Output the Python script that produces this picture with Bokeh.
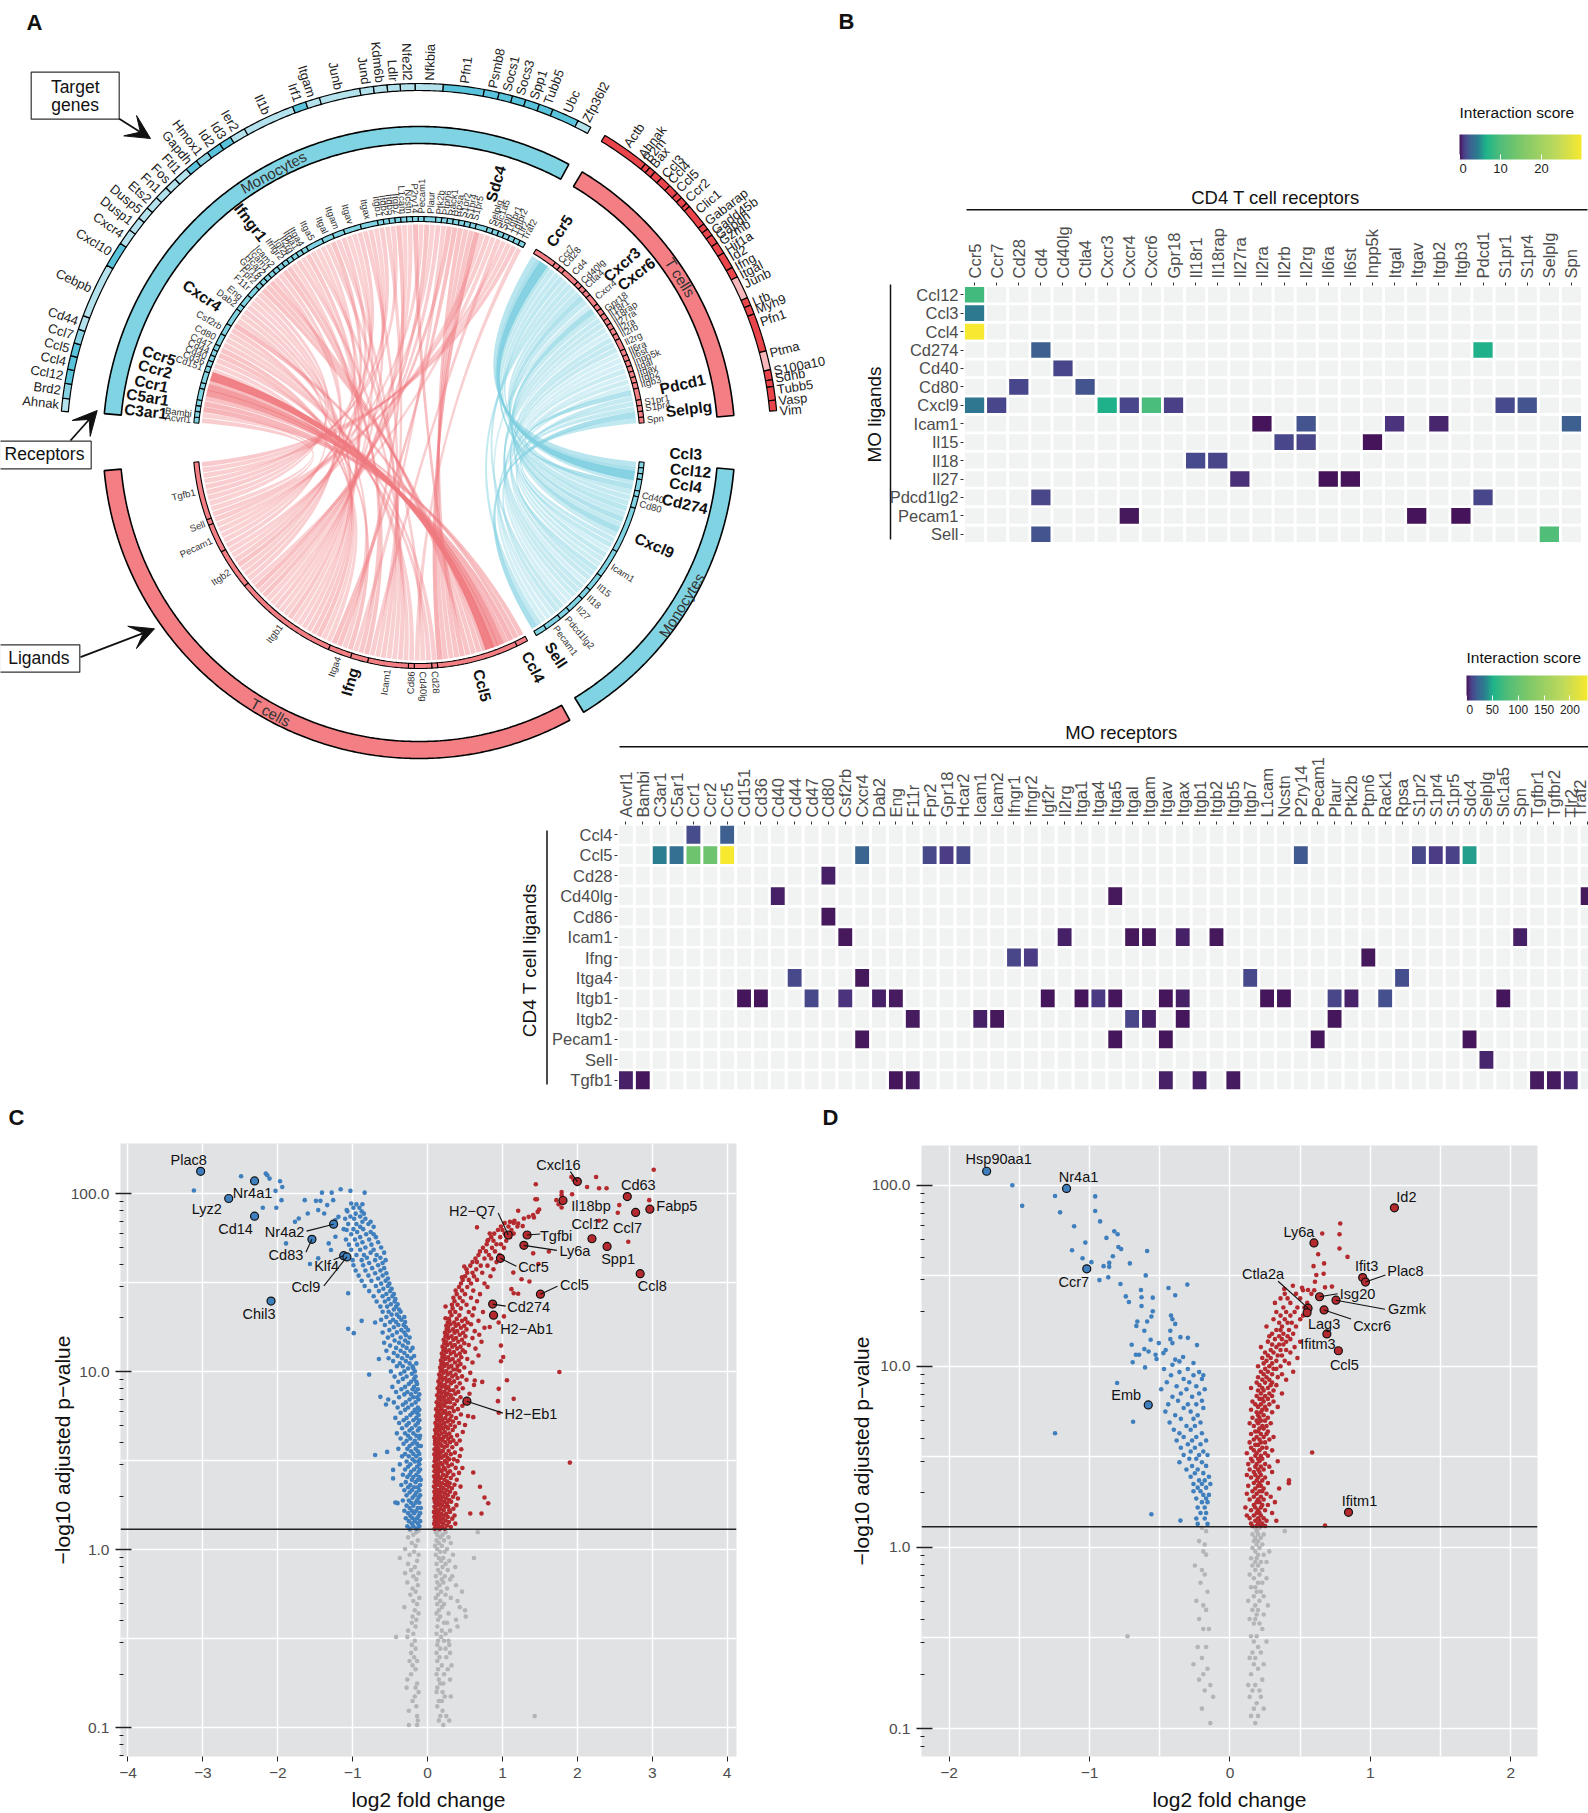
import math
import numpy as np
from bokeh.plotting import figure
from bokeh.embed import file_html
from bokeh.resources import INLINE
from bokeh.core.properties import value
from bokeh.models import (Range1d, FixedTicker, LinearColorMapper, ColorBar, Arrow, VeeHead, Span, ColumnDataSource)

FONT = "Liberation Sans"
# ---------- interaction scores
mo_ligands = ["Ccl3","Ccl12","Ccl4","Cd274","Cd40","Cd80","Cxcl9","Icam1","Il15","Il18","Il27","Pdcd1lg2","Pecam1","Sell"]
heat1_rows = ["Ccl12","Ccl3","Ccl4","Cd274","Cd40","Cd80","Cxcl9","Icam1","Il15","Il18","Il27","Pdcd1lg2","Pecam1","Sell"]
t_receptors = ["Ccr5","Ccr7","Cd28","Cd4","Cd40lg","Ctla4","Cxcr3","Cxcr4","Cxcr6","Gpr18","Il18r1","Il18rap","Il27ra","Il2ra","Il2rb","Il2rg","Il6ra","Il6st","Inpp5k","Itgal","Itgav","Itgb2","Itgb3","Pdcd1","S1pr1","S1pr4","Selplg","Spn"]
heat1_cells = [("Ccl12","Ccr5",9),("Ccl3","Ccr5",4.2),("Ccl4","Ccr5",29.7),("Cd274","Cd4",2.5),("Cd274","Pdcd1",6.5),
 ("Cd40","Cd40lg",1.5),("Cd80","Cd28",1.5),("Cd80","Ctla4",2),("Cxcl9","Ccr5",4),("Cxcl9","Ccr7",1.5),("Cxcl9","Cxcr3",6.5),
 ("Cxcl9","Cxcr4",1.5),("Cxcl9","Cxcr6",9.5),("Cxcl9","Gpr18",1.2),("Cxcl9","S1pr1",1.6),("Cxcl9","S1pr4",2),
 ("Icam1","Il2ra",.1),("Icam1","Il2rg",2),("Icam1","Itgal",.8),("Icam1","Itgb2",.5),("Icam1","Spn",2.5),
 ("Il15","Il2rb",1.5),("Il15","Il2rg",1.4),("Il15","Inpp5k",.1),("Il18","Il18r1",1.6),("Il18","Il18rap",1.4),
 ("Il27","Il27ra",.7),("Il27","Il6ra",.05),("Il27","Il6st",.1),("Pdcd1lg2","Cd4",1.4),("Pdcd1lg2","Pdcd1",1.5),
 ("Pecam1","Cxcr4",.2),("Pecam1","Itgav",.1),("Pecam1","Itgb3",.05),("Sell","Cd4",2),("Sell","Selplg",10)]
t_ligands = ["Ccl4","Ccl5","Cd28","Cd40lg","Cd86","Icam1","Ifng","Itga4","Itgb1","Itgb2","Pecam1","Sell","Tgfb1"]
mo_receptors = ["Acvrl1","Bambi","C3ar1","C5ar1","Ccr1","Ccr2","Ccr5","Cd151","Cd36","Cd40","Cd44","Cd47","Cd80","Csf2rb","Cxcr4","Dab2","Eng","F11r","Fpr2","Gpr18","Hcar2","Icam1","Icam2","Ifngr1","Ifngr2","Igf2r","Il2rg","Itga1","Itga4","Itga5","Itgal","Itgam","Itgav","Itgax","Itgb1","Itgb2","Itgb5","Itgb7","L1cam","Ncstn","P2ry14","Pecam1","Plaur","Ptk2b","Ptpn6","Rack1","Rpsa","S1pr2","S1pr4","S1pr5","Sdc4","Selplg","Slc1a5","Spn","Tgfbr1","Tgfbr2","Tlr2","Traf2"]
heat2_cells = [("Ccl4","Ccr1",13),("Ccl4","Ccr5",20),
 ("Ccl5","C3ar1",35),("Ccl5","C5ar1",28),("Ccl5","Ccr1",105),("Ccl5","Ccr2",105),("Ccl5","Ccr5",234),("Ccl5","Cxcr4",22),("Ccl5","Fpr2",12),("Ccl5","Gpr18",8),("Ccl5","Hcar2",12),("Ccl5","P2ry14",18),("Ccl5","S1pr2",12),("Ccl5","S1pr4",8),("Ccl5","S1pr5",10),("Ccl5","Sdc4",45),
 ("Cd28","Cd80",3),("Cd40lg","Cd40",3),("Cd40lg","Itga5",1.5),("Cd40lg","Traf2",1.5),("Cd86","Cd80",1.5),
 ("Icam1","Csf2rb",1.5),("Icam1","Il2rg",3),("Icam1","Itgal",1.5),("Icam1","Itgam",1.5),("Icam1","Itgax",3),("Icam1","Itgb2",1.5),("Icam1","Spn",3),
 ("Ifng","Ifngr1",11),("Ifng","Ifngr2",8),("Ifng","Ptpn6",1.5),
 ("Itga4","Cd44",12),("Itga4","Cxcr4",1.5),("Itga4","Itgb7",12),("Itga4","Rpsa",14),
 ("Itgb1","Cd151",1),("Itgb1","Cd36",1),("Itgb1","Cd47",12),("Itgb1","Csf2rb",6),("Itgb1","Dab2",3),("Itgb1","Eng",2),("Itgb1","Igf2r",1),("Itgb1","Itga1",1),("Itgb1","Itga4",7),("Itgb1","Itga5",1),("Itgb1","Itgav",1),("Itgb1","Itgax",3),("Itgb1","L1cam",1),("Itgb1","Ncstn",1),("Itgb1","Plaur",11),("Itgb1","Ptk2b",3.5),("Itgb1","Rack1",15),("Itgb1","Slc1a5",1),
 ("Itgb2","F11r",2),("Itgb2","Icam1",3),("Itgb2","Icam2",1.5),("Itgb2","Itgal",11),("Itgb2","Itgam",3),("Itgb2","Itgax",1),("Itgb2","Plaur",1),
 ("Pecam1","Cxcr4",1.5),("Pecam1","Itga5",1),("Pecam1","Itgav",1),("Pecam1","Pecam1",1),("Pecam1","Sdc4",1),
 ("Sell","Selplg",4),
 ("Tgfb1","Acvrl1",3),("Tgfb1","Bambi",1),("Tgfb1","Eng",1),("Tgfb1","F11r",2),("Tgfb1","Itgav",3),("Tgfb1","Itgb1",3),("Tgfb1","Itgb5",2),("Tgfb1","Tgfbr1",2),("Tgfb1","Tgfbr2",2),("Tgfb1","Tlr2",5)]
heat1_max = 29.75
heat2_max = 234
# ---------- target genes of the outer ring
mo_targets = ["Ahnak","Brd2","Ccl12","Ccl4","Ccl5","Ccl7","Cd44","Cebpb","Cxcl10","Cxcr4","Dusp1","Dusp5","Ets2","Fn1","Fos","Ftl1","Gapdh","Hmox1","Id2","Id3","Ier2","Il1b","Irf1","Itgam","Junb","Jund","Kdm6b","Ldlr","Nfe2l2","Nfkbia","Pfn1","Psmb8","Socs1","Socs3","Spp1","Tubb5","Ubc","Zfp36l2"]
mo_target_edges = [-85,-82.9,-80.5,-78.2,-76,-73.9,-71.6,-69.3,-60.4,-56.3,-53.7,-51.3,-49.2,-47,-44.8,-42.8,-40.4,-38.3,-36.1,-33.7,-31.7,-29.1,-20.6,-18.4,-16.1,-9.5,-7.3,-5.1,-3,-.6,3.9,10.5,12.9,15.1,17.3,19.6,21.9,26.3,28.6]
mo_target_tone = [0,1,2,2,2,1,0,0,2,0,0,0,0,0,0,0,2,1,2,2,0,0,2,0,0,0,0,0,0,0,2,2,2,2,2,2,2,0]
t_targets = ["Actb","Ahnak","B2m","Bax","Ccl3","Ccl4","Ccl5","Ccr2","Clic1","Gabarap","Gadd45b","Gapdh","Gzmb","Hif1a","Id2","Ifng","Itgal","Junb","Ltb","Myh9","Pfn1","Ptma","S100a10","Sdhb","Tubb5","Vasp","Vim"]
t_target_angles = [35,37.8,38.9,40.2,42.6,43.9,45.7,47.8,50.2,52.5,54.3,55.3,56.3,58,59.3,61,62.5,64.1,67.2,68.5,70.6,75.7,78.6,79.8,81.6,83.4,85]
t_target_edges = [31.2,39.1,40,41.1,42.5,44.3,46,47,48.2,48.9,52.5,53.5,54.7,56.2,58.1,60.8,62.5,66.2,67.5,69,75.2,78.3,79.9,81,83.2,84.9]
t_target_tone = [2,2,2,2,2,2,2,2,2,2,2,2,2,2,2,2,0,2,2,2,0,2,2,2,2]
bold_labels = {
 "mr":{"Ccr5":(-71.5,274),"Ccr2":(-74.4,274),"Ccr1":(-77.6,274),"C5ar1":(-80.5,275),"C3ar1":(-83.5,275),"Cxcr4":(-55.9,262),"Ifngr1":(-37.4,277),"Sdc4":(16.5,270)},
 "tr":{"Ccr5":(33.6,254),"Cxcr3":(48.7,270),"Cxcr6":(52.2,275),"Pdcd1":(77.5,270),"Selplg":(82.9,272)},
 "ml":{"Ccl3":(92.4,267),"Ccl12":(95.9,273),"Ccl4":(99.1,270),"Cd274":(103,273),"Cxcl9":(113.6,257),"Sell":(147.2,253)},
 "tl":{"Ccl4":(153,252),"Ccl5":(165.4,251),"Ifng":(196.1,249)}}
# ---------- volcano highlights: gene, fold change, log10 of y, label shift, connector shift
c_down = [("Plac8",-3.03,2.125,-12,-11,None),("Nr4a1",-2.31,2.071,-2,12,None),("Lyz2",-2.655,1.972,-22,10,None),("Cd14",-2.31,1.873,-19,13,None),("Nr4a2",-1.255,1.828,-49,8,(-27,7)),("Cd83",-1.544,1.743,-26,16,(-6,13)),("Klf4",-1.12,1.651,-17,10,(-10,4)),("Ccl9",-1.077,1.644,-41,30,(-23,29)),("Chil3",-2.09,1.396,-12,13,None)]
c_up = [("Cxcl16",2.0,2.067,-19,-17,(-7,-10)),("Cd63",2.667,1.983,11,-12,None),("Il18bp",1.808,1.961,28,6,None),("Fabp5",2.968,1.912,27,-3,None),("Ccl7",2.778,1.894,-8,16,None),("H2\u2212Q7",1.077,1.767,-36,-24,(-10,-22)),("Tgfbi",1.329,1.767,29,1,(13,-1)),("Ccl12",2.195,1.746,-2,-15,None),("Ly6a",1.286,1.709,51,6,(33,5)),("Spp1",2.397,1.703,11,13,None),("Ccr5",.973,1.636,33,9,(16,8)),("Ccl8",2.839,1.55,12,12,None),("Ccl5",1.507,1.435,34,-9,(17,-8)),("Cd274",.869,1.379,36,3,(13,2)),("H2\u2212Ab1",.881,1.317,33,14,None),("H2\u2212Eb1",.525,.834,64,13,(36,12))]
d_down = [("Hsp90aa1",-1.733,2.077,12,-12,None),("Nr4a1",-1.164,1.982,12,-11,None),("Ccr7",-1.02,1.538,-13,13,None),("Emb",-.582,.787,-22,-10,None)]
d_up = [("Id2",1.171,1.875,12,-11,None),("Ly6a",.598,1.681,-15,-11,None),("Ifit3",.945,1.49,4,-12,None),("Plac8",.965,1.465,40,-11,(20,-7)),("Isg20",.638,1.384,38,-3,(18,-3)),("Gzmk",.755,1.365,71,9,(49,9)),("Ctla2a",.556,1.321,-45,-34,(-30,-27)),("Lag3",.549,1.296,17,11,None),("Cxcr6",.67,1.311,48,16,(27,9)),("Ifitm3",.69,1.179,-9,10,None),("Ccl5",.772,1.086,6,14,None),("Ifitm1",.844,.194,11,-11,None)]
# ---------- every other gene: (log10 y, [fold changes at that height])
c_down_rows = [(2.112,[-2.16]),(2.103,[-2.14]),(2.097,[-2.49]),(2.084,[-2.11]),(2.069,[-1.97]),(2.037,[-1.94]),(2.024,[-1.16]),(2.017,[-3.12]),(2.015,[-2.03,-1.03]),(2.005,[-1.28,-1.41,-.84]),(1.963,[-1.95,-1.64,-1.26]),(1.959,[-1.49,-1.43]),(1.944,[-1.02]),(1.935,[-1.34]),(1.92,[-2.2,-2.02]),(1.907,[-1.46,-1.08]),(1.888,[-1.6,-1.38]),(1.869,[-1.19]),(1.86,[-1.72]),(1.851,[-1.23]),(1.841,[-1.77]),(1.795,[-1.08]),(1.757,[-1.23]),(1.72,[-1.89,-1.32]),(1.683,[-1.29]),(1.636,[-1.46]),(1.604,[-1.57]),(1.44,[-1.06]),(1.285,[-.88]),(1.276,[-.7]),(1.24,[-1.06]),(1.216,[-.985]),(1.071,[-.65]),(.983,[-.78]),(.858,[-.63]),(.843,[-.525]),(.815,[-.555]),(.549,[-.54]),(.532,[-.7]),(.448,[-.46]),(.4,[-.46]),(.265,[-.43]),(.261,[-.4]),
 (.118,[-.24,-.15]),(.131,[-.27,-.19,-.11]),(.147,[-.21,-.13]),(.16,[-.25,-.17,-.1]),(.176,[-.29,-.2,-.14]),(.189,[-.23,-.12]),(.205,[-.26,-.18,-.1]),(.218,[-.31,-.21,-.15]),(.234,[-.24,-.13,-.09]),(.247,[-.28,-.19]),(.263,[-.22,-.16,-.11]),(.276,[-.33,-.25,-.14]),(.292,[-.2,-.12]),(.305,[-.28,-.17,-.1]),(.321,[-.24,-.15]),(.334,[-.31,-.21,-.11]),(.35,[-.26,-.18,-.13]),(.363,[-.35,-.23,-.1]),(.379,[-.29,-.16]),(.392,[-.21,-.13,-.09]),(.408,[-.27,-.19,-.11]),(.421,[-.33,-.24,-.15]),(.437,[-.22,-.12]),(.45,[-.3,-.18,-.1]),(.466,[-.26,-.14]),(.479,[-.37,-.23,-.11]),(.495,[-.28,-.17,-.12]),(.508,[-.2,-.1]),(.524,[-.34,-.25,-.15]),(.537,[-.3,-.19,-.11]),(.553,[-.22,-.13]),(.566,[-.39,-.27,-.16]),(.582,[-.24,-.12,-.09]),(.595,[-.32,-.2,-.14]),(.611,[-.28,-.17]),(.624,[-.36,-.23,-.11]),(.64,[-.26,-.15,-.1]),(.653,[-.41,-.3,-.19]),(.669,[-.24,-.13]),(.682,[-.34,-.21,-.11]),(.698,[-.28,-.16]),(.711,[-.38,-.25,-.13]),(.727,[-.32,-.19,-.11]),(.74,[-.43,-.28,-.15]),(.756,[-.23,-.12]),(.769,[-.36,-.2,-.14]),(.785,[-.3,-.17,-.11]),(.798,[-.4,-.26,-.13]),(.814,[-.33,-.21]),(.827,[-.45,-.29,-.16]),(.843,[-.24,-.12]),(.856,[-.38,-.19,-.14]),(.872,[-.31,-.22,-.11]),(.885,[-.42,-.27,-.16]),(.901,[-.35,-.2,-.13]),(.914,[-.47,-.3,-.18]),(.93,[-.25,-.14]),(.943,[-.39,-.22,-.15]),(.959,[-.33,-.18]),(.972,[-.44,-.28,-.16]),(.988,[-.36,-.21]),(1.001,[-.49,-.31,-.17]),(1.017,[-.26,-.19]),(1.03,[-.41,-.33,-.2]),(1.046,[-.37,-.24,-.15]),(1.059,[-.46,-.29]),(1.075,[-.52,-.34,-.22]),(1.088,[-.4,-.27,-.18]),(1.104,[-.45,-.31]),(1.117,[-.55,-.36,-.23]),(1.133,[-.42,-.28,-.2]),(1.146,[-.5,-.33]),(1.162,[-.58,-.38,-.26]),(1.175,[-.44,-.3]),(1.191,[-.53,-.36,-.24]),(1.204,[-.47,-.29]),(1.22,[-.6,-.41,-.31]),(1.233,[-.51,-.35,-.26]),(1.249,[-.45,-.29]),(1.262,[-.57,-.39,-.32]),(1.278,[-.5,-.42,-.3]),(1.291,[-.62,-.46,-.35]),(1.307,[-.55,-.38,-.31]),(1.32,[-.48,-.41]),(1.336,[-.6,-.52,-.36]),(1.349,[-.45,-.38]),(1.365,[-.63,-.54,-.42]),(1.378,[-.49,-.4]),(1.394,[-.68,-.57,-.44]),(1.407,[-.52,-.43]),(1.423,[-.72,-.6,-.47]),(1.436,[-.55,-.45]),(1.452,[-.78,-.65,-.5]),(1.465,[-.59,-.48]),(1.481,[-.84,-.69,-.53]),(1.494,[-.62,-.51]),(1.51,[-.88,-.75,-.56]),(1.523,[-.66,-.53]),(1.539,[-.92,-.79,-.6]),(1.552,[-.7,-.55]),(1.568,[-.96,-.83,-.63]),(1.581,[-.74,-.58]),(1.597,[-.99,-.86,-.66]),(1.61,[-.78,-.6]),(1.626,[-1.0,-.88,-.7,-.56]),(1.639,[-.81,-.63]),(1.655,[-.95,-.85,-.68]),(1.668,[-.76,-.58]),(1.684,[-1.02,-.9,-.72]),(1.697,[-.83,-.62]),(1.713,[-1.05,-.94,-.75]),(1.726,[-.87,-.66]),(1.742,[-1.09,-.97,-.78]),(1.755,[-.9,-.69]),(1.771,[-1.02,-.82,-.72]),(1.784,[-.94,-.76]),(1.8,[-1.12,-.99,-.86]),(1.813,[-.9,-.72]),(1.829,[-1.06,-.95,-.79]),(1.842,[-.87,-.76]),(1.858,[-1.1,-.98,-.83]),(1.871,[-1.03,-.9]),(1.887,[-.96,-.85]),(1.9,[-1.07,-.88]),(1.92,[-.99,-.91]),(1.94,[-.95,-.87])]
c_up_rows = [(2.134,[3.02]),(2.093,[1.92,2.25]),(2.078,[1.95]),(2.052,[1.445]),(2.037,[2.13]),(2.03,[2.29,2.39]),(2.009,[1.79]),(1.996,[1.93]),(1.991,[1.79]),(1.968,[1.44,1.46]),(1.963,[1.72,2.96]),(1.94,[1.75]),(1.935,[2.56]),(1.922,[1.79]),(1.91,[1.49]),(1.903,[1.21]),(1.897,[1.47]),(1.892,[2.54]),(1.879,[1.41]),(1.869,[1.35]),(1.866,[1.42]),(1.86,[1.286]),(1.847,[1.16,2.29]),(1.841,[1.1]),(1.832,[1.21]),(1.817,[1.27]),(1.81,[.66]),(1.776,[.83]),(1.739,[.81]),(1.729,[2.68]),(1.674,[1.62]),(1.664,[1.41]),(1.604,[1.48]),(1.59,[.49]),(1.556,[1.145]),(1.53,[.46]),(1.519,[1.255]),(1.506,[1.36]),(1.463,[1.12]),(1.44,[1.15]),(1.437,[1.21]),(1.366,[.24]),(1.31,[1.02]),(1.3,[.24]),(1.276,[.95]),(1.25,[.83]),(1.146,[.98]),(1.082,[1.01]),(1.058,[.98]),(.998,[1.76]),(.951,[1.06]),(.95,[.63]),(.942,[.73]),(.903,[.95]),(.847,[1.15]),(.834,[.94]),(.769,[.95]),(.744,[.61]),(.489,[1.9]),(.433,[.61]),(.353,[.7]),(.293,[.76]),(.261,[.81]),(.203,[.57,.72]),
 (.118,[.095,.16,.23]),(.127,[.12,.19,.31]),(.136,[.105,.145,.26]),(.146,[.088,.21,.37]),(.155,[.13,.175,.285]),(.164,[.098,.155,.24]),(.174,[.115,.205,.33]),(.183,[.09,.165,.27]),(.192,[.135,.225,.36]),(.201,[.102,.185,.25]),(.212,[.085,.148,.3]),(.221,[.125,.215,.29]),(.23,[.108,.172,.345]),(.241,[.092,.235,.275]),(.25,[.14,.195,.385]),(.259,[.112,.162,.26]),(.269,[.096,.222,.315]),(.278,[.13,.182,.29]),(.287,[.088,.152,.245,.405]),(.297,[.118,.205,.34]),(.306,[.1,.168,.27]),(.316,[.142,.232,.37]),(.325,[.09,.188,.3]),(.334,[.122,.158,.255]),(.345,[.104,.212,.325]),(.354,[.086,.175,.28,.44]),(.364,[.135,.242,.36]),(.373,[.11,.195,.295]),(.382,[.094,.152,.262]),(.393,[.128,.225,.39]),(.402,[.1,.178,.31]),(.412,[.088,.148,.252]),(.421,[.116,.208,.345]),(.431,[.138,.268,.42]),(.44,[.092,.185,.3]),(.45,[.122,.162,.235]),(.459,[.105,.218,.375,.465]),(.469,[.087,.145,.278]),(.478,[.13,.198,.325]),(.488,[.112,.172,.255]),(.497,[.095,.232,.4]),(.507,[.14,.288,.35]),(.516,[.102,.185,.265]),(.526,[.118,.155,.212,.43]),(.536,[.09,.245,.31]),(.545,[.128,.175,.365]),(.555,[.108,.205,.28]),(.564,[.093,.148,.45]),(.575,[.135,.225,.33]),(.584,[.115,.19,.262]),(.594,[.098,.165,.385]),(.603,[.142,.238,.3]),(.613,[.1,.202,.345,.43]),(.622,[.125,.172,.275]),(.633,[.09,.218,.315]),(.642,[.15,.252,.395]),(.652,[.112,.188,.29]),(.661,[.132,.23,.47]),(.672,[.1,.165,.335]),(.681,[.155,.208,.272]),(.691,[.118,.245,.365]),(.7,[.138,.185,.305,.5]),(.711,[.105,.222,.42]),(.72,[.162,.268,.34]),(.73,[.125,.198,.295]),(.739,[.148,.238,.38]),(.75,[.112,.178,.318,.54]),(.759,[.168,.258,.445]),(.769,[.13,.21,.29]),(.778,[.152,.235,.35]),(.789,[.115,.188,.405]),(.798,[.172,.275,.325]),(.808,[.138,.225,.465]),(.817,[.158,.205,.36]),(.828,[.122,.252,.3,.5]),(.837,[.178,.232,.395]),(.847,[.145,.282,.338]),(.856,[.165,.215,.44]),(.867,[.128,.245,.31]),(.876,[.185,.268,.37,.56]),(.886,[.15,.225,.41]),(.895,[.172,.298,.345]),(.906,[.135,.248,.47]),(.915,[.192,.278,.385]),(.925,[.158,.23,.62]),(.934,[.178,.315,.43]),(.945,[.145,.258,.355]),(.954,[.2,.292,.52]),(.964,[.165,.238,.4]),(.973,[.185,.33,.46]),(.984,[.155,.268,.375]),(.993,[.212,.305,.57]),(1.003,[.175,.25,.425]),(1.012,[.195,.345,.39]),(1.023,[.168,.282,.49]),(1.032,[.222,.318,.4]),(1.042,[.185,.26,.44]),(1.051,[.205,.365,.6]),(1.062,[.178,.295,.415]),(1.071,[.235,.335,.53]),(1.081,[.198,.275,.45]),(1.09,[.22,.38,.68]),(1.101,[.19,.31,.43]),(1.11,[.248,.352,.5]),(1.12,[.212,.29,.47]),(1.129,[.232,.395,.64]),(1.14,[.2,.33,.44]),(1.149,[.262,.365,.55]),(1.159,[.225,.305,.49]),(1.168,[.245,.41,.72]),(1.179,[.215,.345,.46]),(1.188,[.275,.38,.6]),(1.198,[.24,.32,.505]),(1.207,[.26,.43,.69]),(1.218,[.232,.36,.475]),(1.227,[.29,.395,.63]),(1.237,[.255,.34,.52]),(1.246,[.275,.445,.76]),(1.257,[.25,.375,.49]),(1.266,[.305,.41,.58]),(1.276,[.27,.355,.535]),(1.285,[.29,.46,.68]),(1.296,[.285,.39,.505]),(1.316,[.32,.425,.6]),(1.335,[.3,.37,.55,.74]),(1.355,[.335,.445,.62]),(1.375,[.325,.4,.52]),(1.395,[.36,.47,.66]),(1.415,[.345,.43,.58]),(1.435,[.39,.5,.7]),(1.455,[.375,.46,.61]),(1.475,[.42,.53,.8]),(1.495,[.445,.58,.76]),(1.515,[.47,.55,.66]),(1.535,[.5,.62,.84]),(1.555,[.53,.6,.73]),(1.575,[.52,.65,.88]),(1.595,[.57,.71,.8]),(1.615,[.6,.66,.92]),(1.635,[.64,.76,.85]),(1.655,[.68,.82,.96]),(1.675,[.7,.78,.9]),(1.695,[.74,.86,1.02]),(1.715,[.79,.92,.98]),(1.735,[.8,.88,1.05]),(1.755,[.85,.97,1.1]),(1.775,[.89,1.03,1.15]),(1.795,[.94,1.0,1.12]),(1.815,[.98,1.08,1.2]),(1.835,[1.03,1.15])]
c_grey_rows = [(.108,[-.23,-.12,.16]),(.098,[-.15,.11,.24,.67]),(.083,[-.19,.13,.2]),(.069,[-.26,.17,.28]),(.052,[-.13,.12,.22]),(.037,[-.21,.15,.31]),(.021,[-.16,.1,.19]),(.004,[-.3,.13,.26]),(-.012,[-.18,.17,.23]),(-.029,[-.24,-.12,.11,.34]),(-.047,[-.37,.15,.21,.62]),(-.063,[-.14,.18,.29]),(-.08,[-.26,.12,.24]),(-.098,[-.17,.2,.37]),(-.115,[-.22,.14,.27]),(-.132,[-.3,-.12,.17]),(-.149,[-.19,.11,.23,.33]),(-.167,[-.15,.19,.3]),(-.184,[-.27,.13,.21]),(-.2,[-.13,.16,.38]),(-.218,[-.2,.12,.26]),(-.236,[-.16,.18,.46]),(-.253,[-.23,.14,.24]),(-.271,[-.11,.11,.31]),(-.288,[-.19,.17,.4]),(-.306,[-.14,.13,.22]),(-.323,[-.31,.19,.43]),(-.341,[-.17,.15,.5]),(-.358,[-.12,.12,.28]),(-.376,[-.2,.17,.51]),(-.394,[-.15,.14,.38]),(-.411,[-.21,.22,.26]),(-.432,[-.16,.13,.4]),(-.455,[-.26,.19,.3]),(-.472,[-.19,.12,.24]),(-.49,[-.42,-.27,.18]),(-.512,[-.17,.14,.22,.28]),(-.535,[-.21,.13,.29]),(-.556,[-.16,.17,.24]),(-.58,[-.22,.12,.3]),(-.604,[-.18,.16,.25]),(-.625,[-.24,-.14,.13]),(-.65,[-.2,.19,.32]),(-.672,[-.16,.14,.27]),(-.7,[-.22,.12,.22]),(-.73,[-.27,.15,.3]),(-.752,[-.14,.17,.21]),(-.775,[-.28,-.16,.13]),(-.8,[-.12,.12,.2]),(-.825,[-.17,.23,.31]),(-.85,[-.2,.15,.19]),(-.88,[-.15,.13]),(-.905,[-.25,.2]),(-.935,[-.14,.17,.25,1.43]),(-.96,[-.13,.15,.29]),(-.985,[-.25,-.14,.21])]
d_down_rows = [(2.0,[-1.55]),(1.94,[-1.246]),(1.938,[-.96]),(1.886,[-1.48]),(1.857,[-.96]),(1.85,[-1.21]),(1.8,[-.925]),(1.773,[-1.11]),(1.745,[-.824]),(1.729,[-.8]),(1.709,[-.88]),(1.683,[-1.03]),(1.659,[-.795]),(1.647,[-.775]),(1.641,[-1.125]),(1.637,[-.59]),(1.608,[-.834]),(1.597,[-1.05]),(1.575,[-.987]),(1.571,[-.86]),(1.568,[-.713]),(1.553,[-.9]),(1.549,[-.86]),(1.502,[-.6]),(1.491,[-.867]),(1.476,[-.93]),(1.454,[-.78]),(1.451,[-.304]),(1.432,[-.438]),(1.421,[-.634]),(1.392,[-.39]),(1.386,[-.742]),(1.381,[-.63]),(1.379,[-.55]),(1.355,[-.72]),(1.333,[-.63]),(1.304,[-.55]),(1.28,[-.42]),(1.275,[-.56]),(1.26,[-.41]),(1.247,[-.59,-.66]),(1.234,[-.39]),(1.223,[-.667]),(1.196,[-.61,-.425]),(1.161,[-.353]),(1.157,[-.3]),(1.15,[-.425]),(1.147,[-.565]),(1.128,[-.41,-.507]),(1.119,[-.7]),(1.117,[-.235]),(1.095,[-.61]),(1.09,[-.458]),(1.082,[-.58]),(1.073,[-.474]),(1.064,[-.67,-.647,-.53]),(1.051,[-.334]),(1.04,[-.523]),(1.037,[-.39]),(1.027,[-.36]),(1.022,[-.693]),(1.018,[-.26]),(1.009,[-.41]),(.994,[-.605]),(.908,[-.804]),(.694,[-.69]),(.63,[-1.246]),(.183,[-.56]),(.148,[-.353]),
 (.985,[-.47,-.3]),(.968,[-.36,-.22]),(.951,[-.42,-.26,-.19]),(.93,[-.33,-.2]),(.912,[-.45,-.29]),(.89,[-.38,-.24]),(.873,[-.49,-.31,-.18]),(.85,[-.35,-.22]),(.832,[-.41,-.27]),(.81,[-.37,-.2]),(.79,[-.44,-.3,-.24]),(.77,[-.33,-.19]),(.75,[-.46,-.28]),(.73,[-.39,-.23]),(.71,[-.35,-.26]),(.69,[-.43,-.21]),(.67,[-.31,-.25]),(.65,[-.4,-.28]),(.63,[-.36,-.2]),(.61,[-.33,-.24]),(.59,[-.38,-.27,-.17]),(.57,[-.3,-.21]),(.55,[-.35,-.25]),(.53,[-.28,-.19]),(.51,[-.33,-.22,-.16]),(.49,[-.29,-.24]),(.47,[-.36,-.2]),(.45,[-.27,-.17]),(.43,[-.31,-.23]),(.41,[-.25,-.19]),(.39,[-.28,-.15]),(.37,[-.22,-.18]),(.35,[-.26,-.2,-.14]),(.33,[-.23,-.17]),(.31,[-.21,-.26]),(.29,[-.19,-.15]),(.27,[-.24,-.17]),(.25,[-.2,-.16]),(.22,[-.23,-.18]),(.19,[-.17,-.21]),(.16,[-.24,-.18]),(.13,[-.23,-.16])]
d_up_rows = [(1.788,[.785]),(1.733,[.657]),(1.729,[.78]),(1.65,[.78]),(1.619,[.628]),(1.604,[.837]),(1.568,[.67]),(1.553,[.595]),(1.511,[.667]),(1.504,[.615]),(1.467,[.605]),(1.445,[.448]),(1.44,[.726]),(1.436,[.677]),(1.434,[.513]),(1.427,[.386]),(1.421,[.556]),(.524,[.585]),(.355,[.419]),(.121,[.677]),
 (.118,[.16,.19,.22,.25]),(.132,[.15,.2,.23]),(.147,[.18,.21,.26,.33]),(.161,[.14,.2,.24]),(.176,[.12,.17,.22]),(.19,[.19,.21,.3]),(.205,[.15,.2,.25]),(.22,[.11,.18,.22]),(.234,[.17,.23,.27]),(.25,[.19,.21,.32]),(.265,[.14,.2,.24]),(.28,[.17,.22,.29]),(.296,[.12,.19,.26]),(.31,[.16,.21,.23]),(.325,[.18,.24,.35]),(.34,[.13,.2,.22]),(.356,[.17,.21,.27]),(.37,[.19,.23,.42]),(.386,[.15,.2,.25]),(.4,[.12,.18,.22]),(.416,[.17,.21,.3]),(.43,[.14,.2,.24]),(.446,[.18,.22,.28]),(.46,[.13,.19,.25]),(.476,[.16,.21,.34]),(.49,[.15,.2,.23]),(.506,[.18,.22,.27]),(.52,[.12,.19,.25]),(.536,[.17,.21,.3]),(.55,[.15,.23,.26]),(.566,[.18,.2]),(.58,[.14,.22,.25]),(.596,[.17,.21,.28]),(.61,[.19,.24,.31]),(.626,[.15,.22,.26]),(.64,[.18,.2,.27]),(.656,[.21,.24]),(.67,[.17,.23,.26]),(.686,[.14,.2,.29]),(.7,[.19,.22,.25]),(.716,[.16,.21,.27]),(.73,[.2,.24]),(.746,[.19,.22,.3]),(.76,[.15,.23,.26]),(.776,[.2,.25,.34]),(.79,[.18,.22,.28]),(.806,[.16,.24,.31]),(.82,[.21,.23,.27]),(.836,[.19,.25,.3]),(.85,[.22,.28,.37]),(.866,[.2,.24,.31]),(.88,[.15,.23,.27]),(.896,[.21,.29,.33]),(.91,[.19,.25,.3]),(.926,[.23,.28,.4]),(.94,[.2,.26,.34]),(.956,[.24,.3,.37]),(.97,[.22,.27,.45]),(.986,[.25,.31,.33]),(1.0,[.2,.28,.36]),(1.016,[.24,.3,.42]),(1.03,[.26,.33,.39]),(1.046,[.23,.29,.48]),(1.06,[.27,.34,.37]),(1.076,[.25,.31,.43]),(1.09,[.29,.36,.4]),(1.106,[.22,.33,.46]),(1.12,[.3,.35,.38]),(1.136,[.27,.4,.5]),(1.15,[.32,.37,.43]),(1.166,[.28,.35,.41]),(1.18,[.3,.38,.45]),(1.2,[.33,.42,.36]),(1.22,[.26,.37,.47]),(1.24,[.35,.41,.44]),(1.26,[.31,.39,.5]),(1.28,[.36,.43,.52]),(1.3,[.33,.46,.4]),(1.325,[.38,.48,.53]),(1.35,[.32,.43,.55]),(1.375,[.36,.41,.5]),(1.4,[.39,.47,.58]),(1.42,[.52,.6])]
d_grey_rows = [(.108,[-.2,.18,.21]),(.09,[-.17,.19,.39]),(.072,[.16,.2,.24]),(.053,[.18,.22]),(.035,[-.22,.17,.2]),(.016,[-.18,.19,.23]),(-.003,[.16,.21]),(-.022,[-.19,.18,.28]),(-.04,[-.17,.2,.24]),(-.06,[.15,.19]),(-.08,[.18,.22,.26]),(-.1,[-.25,.16,.2]),(-.125,[-.2,.18,.23]),(-.15,[-.18,.14,.21]),(-.17,[.17,.26]),(-.195,[-.21,.2,.23]),(-.22,[.15,.18]),(-.245,[-.16,.19,.22]),(-.27,[.17,.24]),(-.295,[-.24,.13,.21]),(-.32,[-.19,.18,.27]),(-.345,[-.17,.16,.2]),(-.37,[.19,.24]),(-.395,[-.22,.14,.18]),(-.42,[.21,.17]),(-.45,[-.19,-.15,.23]),(-.49,[-.73,.15,.19]),(-.52,[.17,.26]),(-.55,[-.23,-.17,.2]),(-.58,[.16,.22]),(-.61,[-.2,.14,.18]),(-.645,[-.26,.17,.24]),(-.67,[-.16,.2]),(-.7,[-.19,.15]),(-.73,[-.22,.23]),(-.76,[-.14,.13,.18]),(-.79,[-.18,.16,.21]),(-.825,[-.12,.14,.22]),(-.86,[.19]),(-.89,[-.2,.17,.24]),(-.93,[.15,.2]),(-.97,[-.14,.18])]

def rows_to_xy(rows):
    xs, ys = [], []
    for lg, fcs in rows:
        for f in fcs:
            xs.append(f); ys.append(10**lg)
    return xs, ys

def pos(a, r, cx=418.5, cy=442.0):
    t = math.radians(a)
    return cx + r*math.sin(t), cy - r*math.cos(t)
def sector(a1, a2, r1, r2):
    n = max(2, int(abs(a2-a1)/0.5)+2)
    angs = np.linspace(a1, a2, n)
    xs = [pos(a, r2)[0] for a in angs] + [pos(a, r1)[0] for a in angs[::-1]]
    ys = [pos(a, r2)[1] for a in angs] + [pos(a, r1)[1] for a in angs[::-1]]
    return xs, ys
def bez(a, b, n=40):
    (x0, y0), (x1, y1) = pos(a, 218), pos(b, 218)
    cx, cy = pos(0, 0)
    t = np.linspace(0, 1, n)
    return list((1-t)**2*x0+2*t*(1-t)*cx+t*t*x1), list((1-t)**2*y0+2*t*(1-t)*cy+t*t*y1)
def ribbon(l1, l2, m1, m2):
    ax, ay = sector(l1, l2, 218, 218); n = len(ax)//2
    bx, by = sector(m1, m2, 218, 218); k = len(bx)//2
    c1 = bez(l2, m1); c2 = bez(m2, l1)
    return ax[:n]+c1[0]+bx[:k]+c2[0], ay[:n]+c1[1]+by[:k]+c2[1]

canvas = figure(width=1588, height=1813, x_range=Range1d(0,1588), y_range=Range1d(1813,0),
    output_backend="svg", toolbar_location=None, x_axis_location=None, y_axis_location=None,
    min_border=0, outline_line_color=None, background_fill_alpha=0, border_fill_alpha=0)
canvas.grid.visible = False

def chord(cells, ligs, recs, lrange, rrange, color, vmax, lc, rc, lk, rk):
    lcount = {g: sum(1 for c in cells if c[0]==g) for g in ligs}
    rcount = {g: sum(1 for c in cells if c[1]==g) for g in recs}
    unit = (lrange[1]-lrange[0])/len(cells)
    runit = (rrange[1]-rrange[0])/len(cells)
    lstart, a = {}, lrange[0]
    for g in ligs:
        lstart[g] = a; a += lcount[g]*unit
    rstart, a = {}, rrange[0]
    for g in recs:
        rstart[g] = a; a += rcount[g]*runit
    lnext, rnext = dict(lstart), dict(rstart)
    order = {g:i for i,g in enumerate(recs)}
    rslots = {}
    for g in ligs:
        for c in cells:
            if c[0]==g:
                rslots[(c[0],c[1])] = rnext[c[1]]; rnext[c[1]] += runit
    xs, ys, al = [], [], []
    for g in ligs:
        for c in sorted([c for c in cells if c[0]==g], key=lambda c: order[c[1]]):
            s = c[2]/vmax
            w = 0.84+0.8*s
            lm = lnext[g]+unit/2; lnext[g] += unit
            rm = rslots[(c[0],c[1])]+runit/2
            x,y = ribbon(lm-unit*w/2, lm+unit*w/2, rm-runit*w/2, rm+runit*w/2)
            xs.append(x); ys.append(y); al.append(0.3+0.65*s**0.5)
    canvas.patches(xs, ys, fill_color=color, fill_alpha=al, line_color=None)
    for names, start, count, u, col, key in ((ligs,lstart,lcount,unit,lc,lk),(recs,rstart,rcount,runit,rc,rk)):
        xs, ys = [], []
        lab = {"x":[],"y":[],"t":[],"ang":[],"al":[]}
        bold = {"x":[],"y":[],"t":[],"ang":[]}
        for g in names:
            x,y = sector(start[g], start[g]+count[g]*u, 221, 226)
            xs.append(x); ys.append(y)
            mid = start[g]+count[g]*u/2
            if g in bold_labels[key]:
                a, r = bold_labels[key][g]
                px,py = pos(a,r)
                aa = a % 360
                bold["x"].append(px); bold["y"].append(py); bold["t"].append(g)
                bold["ang"].append(math.radians(90-a if aa<180 else -90-a))
            else:
                px,py = pos(mid,229)
                aa = mid % 360
                lab["x"].append(px); lab["y"].append(py); lab["t"].append(g)
                lab["ang"].append(math.radians(90-mid if aa<180 else -90-mid)); lab["al"].append("left" if aa<180 else "right")
        canvas.patches(xs, ys, fill_color=col, line_color="black", line_width=1.1)
        canvas.text(lab["x"],lab["y"],text=lab["t"],angle=lab["ang"],text_align=lab["al"],text_baseline="middle",
                    text_font=value(FONT),text_font_size="9.5px",text_color="#333333")
        canvas.text(bold["x"],bold["y"],text=bold["t"],angle=bold["ang"],text_align="center",text_baseline="middle",
                    text_font=value(FONT),text_font_size="15.5px",text_font_style="bold",text_color="#111111")

PINK, BLUE = "#f37f85", "#80d3e2"
chord(heat2_cells, t_ligands, mo_receptors, (151.3,265), (-85,28.1), "#ef7a80", heat2_max, PINK, BLUE, "tl", "mr")
chord(heat1_cells, mo_ligands, t_receptors, (95,148.7), (31.2,85), "#7fd0e0", heat1_max, BLUE, PINK, "ml", "tr")

band = [(-84.75,28.3,BLUE),(31.1,85.1,PINK),(94.9,148.6,BLUE),(151.5,264.9,PINK)]
xs,ys,cols = [],[],[]
for a1,a2,c in band:
    x,y = sector(a1,a2,299,316); xs.append(x); ys.append(y); cols.append(c)
canvas.patches(xs,ys,fill_color=cols,line_color="black",line_width=1.6)
band_text = [("Monocytes",-28.3,307,28.3),("T  cells",58.1,309,-58.1),("Monocytes",121.8,309,58.2),("T  cells",208.4,308,-28.4)]
for t,a,r,rot in band_text:
    x,y = pos(a,r)
    canvas.text([x],[y],text=[t],angle=[math.radians(rot)],text_align="center",text_baseline="middle",
                text_font=value(FONT),text_font_size="15px",text_color="#333333")
# outer target rings
mo_tone = ["#b3e1ec","#86d2e3","#58c3da"]
t_tone = ["#f7b8bc","#f08a8e","#e9454b"]
xs,ys,cols=[],[],[]
for i,t in enumerate(mo_target_tone):
    x,y = sector(mo_target_edges[i],mo_target_edges[i+1],352,359); xs.append(x); ys.append(y); cols.append(mo_tone[t])
for i,t in enumerate(t_target_tone):
    x,y = sector(t_target_edges[i],t_target_edges[i+1],352,359); xs.append(x); ys.append(y); cols.append(t_tone[t])
canvas.patches(xs,ys,fill_color=cols,line_color="black",line_width=1.2)
mids = [(mo_target_edges[i]+mo_target_edges[i+1])/2 for i in range(len(mo_targets))]
for names,angs in ((mo_targets,mids),(t_targets,t_target_angles)):
    xx=[pos(a,362)[0] for a in angs]; yy=[pos(a,362)[1] for a in angs]
    canvas.text(xx,yy,text=names,angle=[math.radians(90-a if a>=0 else -90-a) for a in angs],
        text_align=["left" if a>=0 else "right" for a in angs],text_baseline="middle",
        text_font=value(FONT),text_font_size="13px",text_color="#222222")
# boxes, arrows, captions
canvas.quad(left=[30.7,-1,-1],right=[118.7,90.7,79.3],top=[71.7,440.7,644.3],bottom=[118.7,468.3,671.7],fill_color="white",line_color="#333333",line_width=1.2)
cap = [("Target",74.7,86),("genes",74.7,104),("Receptors",44,453.5),("Ligands",38.3,657.5)]
canvas.text([c[1] for c in cap],[c[2] for c in cap],text=[c[0] for c in cap],text_align="center",text_baseline="middle",text_font=value(FONT),text_font_size="17.5px",text_color="#111111")
for x0,y0,x1,y1 in [(118.7,118.3,150,138),(70,440,96.7,410),(80,656.7,154,628.3)]:
    canvas.add_layout(Arrow(end=VeeHead(size=24,fill_color="#111111",line_color="#111111",line_width=1),x_start=x0,y_start=y0,x_end=x1,y_end=y1,line_color="#111111",line_width=1.8))
letters = [("A",34,22),("B",846,21),("C",16,1117),("D",830,1117)]
canvas.text([c[1] for c in letters],[c[2] for c in letters],text=[c[0] for c in letters],text_align="center",text_baseline="middle",text_font=value(FONT),text_font_size="22px",text_font_style="bold",text_color="#111111")
titles = [("CD4 T cell receptors",1275,197),("MO receptors",1120.7,731.7)]
canvas.text([c[1] for c in titles],[c[2] for c in titles],text=[c[0] for c in titles],text_align="center",text_baseline="middle",text_font=value(FONT),text_font_size="18.5px",text_color="#111111")
canvas.segment(x0=[966,619,890,546.5],y0=[209.3,746.3,284,830],x1=[1587,1588,890,546.5],y1=[209.3,746.3,539,1084],line_color="#111111",line_width=1.5)

# palette
stops = [(0,"#45135a"),(.005,"#46185c"),(.03,"#4d3a85"),(.06,"#46508f"),(.09,"#3c6492"),(.15,"#2b7e90"),(.22,"#1fb58a"),(.33,"#4fbd7a"),(.5,"#7cc86a"),(.8,"#c0da5c"),(1,"#f7e92f")]
def hex2(c): return [int(c[i:i+2],16) for i in (1,3,5)]
def make_palette(n=512):
    out=[]
    for t in np.linspace(0,1,n):
        for (t0,c0),(t1,c1) in zip(stops,stops[1:]):
            if t<=t1:
                f=(t-t0)/(t1-t0); a,b=hex2(c0),hex2(c1)
                out.append("#%02x%02x%02x"%tuple(int(a[i]+(b[i]-a[i])*f) for i in range(3)))
                break
    return out
PALETTE = make_palette()

def heat(cells, rows, cols, vmax, fl, ft, fr, fb, left, top, right, bottom, xmax, ylabel, tw, th, stand):
    w = right-left; h = bottom-top
    p = figure(width=w,height=h,x_range=Range1d(-.5,xmax),y_range=Range1d(len(rows)-.5,-.5),x_axis_location="above",
        output_backend="svg",toolbar_location=None,min_border_left=int(fl-left),min_border_top=int(ft-top),
        min_border_right=int(right-fr),min_border_bottom=int(bottom-fb),outline_line_color=None,background_fill_alpha=0,border_fill_alpha=0)
    p.grid.visible=False
    gx,gy=np.meshgrid(range(len(cols)),range(len(rows)))
    p.rect(gx.ravel(),gy.ravel(),width=tw,height=th,fill_color="#f1f3f2",line_color=None)
    mapper = LinearColorMapper(palette=PALETTE,low=0,high=vmax)
    src = ColumnDataSource(dict(x=[cols.index(c[1]) for c in cells],y=[rows.index(c[0]) for c in cells],s=[c[2] for c in cells]))
    p.rect("x","y",source=src,width=tw,height=th,fill_color={"field":"s","transform":mapper},line_color=None)
    for ax,names in ((p.xaxis[0],cols),(p.yaxis[0],rows)):
        ax.ticker=FixedTicker(ticks=list(range(len(names))))
        ax.major_label_overrides={i:n for i,n in enumerate(names)}
        ax.axis_line_color=None; ax.minor_tick_line_color=None
        ax.major_tick_in=0; ax.major_tick_out=3; ax.major_tick_line_color="#333333"
        ax.major_label_text_font=FONT; ax.major_label_text_font_size="16.5px"; ax.major_label_text_color="#4d4d4d"
        ax.major_label_standoff=2
    p.xaxis[0].major_label_orientation=math.pi/2
    p.xaxis[0].major_label_standoff=4
    p.yaxis[0].axis_label=ylabel; p.yaxis[0].axis_label_text_font=FONT; p.yaxis[0].axis_label_text_font_size="19px"
    p.yaxis[0].axis_label_text_font_style="normal"; p.yaxis[0].axis_label_text_color="#111111"; p.yaxis[0].axis_label_standoff=stand
    return p, mapper

hb, mb = heat(heat1_cells,heat1_rows,t_receptors,heat1_max,963,285,1582,543,855,200,1588,548,27.5,"MO ligands",.87,.85,2)
h2, m2 = heat(heat2_cells,t_ligands,mo_receptors,heat2_max,617,824,1588,1090,505,745,1588,1095,57.05,"CD4 T cell  ligands",.82,.87,9)

def legend(mapper, ticks, w, standoff, tick_font):
    p = figure(width=w+6,height=100,x_range=Range1d(0,1),y_range=Range1d(0,1),output_backend="svg",toolbar_location=None,
        x_axis_location=None,y_axis_location=None,min_border=0,outline_line_color=None,background_fill_alpha=0,border_fill_alpha=0)
    p.grid.visible=False
    cb = ColorBar(color_mapper=mapper,ticker=FixedTicker(ticks=ticks),orientation="horizontal",width=w,height=25,location="top_left",padding=0,margin=0,
        title="Interaction score",title_text_font=FONT,title_text_font_size="15.5px",title_text_font_style="normal",title_text_color="#111111",title_standoff=standoff,
        major_label_text_font=FONT,major_label_text_font_size=tick_font,major_label_text_color="#222222",major_tick_line_color="white",major_tick_in=5,
        background_fill_alpha=0,border_line_color=None,bar_line_color=None,label_standoff=4)
    p.add_layout(cb,"center")
    return p
lb = legend(mb,[0,10,20],122,27,"13px")
l2 = legend(m2,[0,50,100,150,200],121,20,"12px")

def volcano(down,up,extra,xr,yr,fl,ft,fr,fb,left,top,right,bottom,ticks,grid,pxx,pxy,ystand):
    p = figure(width=right-left,height=bottom-top,x_range=Range1d(*xr),y_range=Range1d(*yr),y_axis_type="log",
        output_backend="svg",toolbar_location=None,min_border_left=int(fl-left),min_border_top=int(ft-top),
        min_border_right=int(right-fr),min_border_bottom=int(bottom-fb),outline_line_color=None,background_fill_color="#e1e2e4",border_fill_alpha=0)
    p.xgrid.ticker=FixedTicker(ticks=grid)
    p.ygrid.ticker=FixedTicker(ticks=[.1,10**-.5,1,10**.5,10,10**1.5,100])
    p.grid.grid_line_color="white"; p.grid.grid_line_width=1.5
    for rows,c in extra:
        xs,ys=rows_to_xy(rows)
        p.scatter(xs,ys,size=4.6,fill_color=c,line_color=None)
    p.add_layout(Span(location=1.3,dimension="width",line_color="#222222",line_width=1.5))
    ax=p.xaxis[0]
    ax.ticker=FixedTicker(ticks=ticks); ax.major_label_overrides={t:str(t).replace("-","\u2212") for t in ticks}
    ax.axis_line_color=None; ax.major_tick_in=0; ax.major_tick_out=5; ax.minor_tick_line_color=None; ax.major_tick_line_color="#222222"
    ax.axis_label="log2 fold change"; ax.axis_label_standoff=7
    ay=p.yaxis[0]
    minors=[m*10**e for e in (-2,-1,0,1,2) for m in range(2,10)]
    ay.ticker=FixedTicker(ticks=[.1,1,10,100],minor_ticks=minors)
    ay.major_label_overrides={.1:"0.1",1:"1.0",10:"10.0",100:"100.0"}
    ay.axis_line_color=None; ay.major_tick_in=11; ay.major_tick_out=5; ay.minor_tick_in=3; ay.minor_tick_out=1
    ay.major_tick_line_color="#222222"; ay.major_tick_line_width=1.5; ay.minor_tick_line_color="#222222"; ay.minor_tick_line_width=1.2
    ay.axis_label="\u2212log10 adjusted p\u2212value"; ay.axis_label_standoff=ystand
    for a in (ax,ay):
        a.major_label_text_font=FONT; a.major_label_text_font_size="15.5px"; a.major_label_text_color="#4d4d4d"; a.major_label_standoff=6
        a.axis_label_text_font=FONT; a.axis_label_text_font_size="21px"; a.axis_label_text_font_style="normal"; a.axis_label_text_color="#111111"
    for group,c in ((down,"#3f7fbd"),(up,"#b42a2e")):
        p.scatter([g[1] for g in group],[10**g[2] for g in group],size=8,fill_color=c,line_color="#111111",line_width=1.2)
        p.text([g[1] for g in group],[10**g[2] for g in group],text=[g[0] for g in group],x_offset=[g[3] for g in group],y_offset=[g[4] for g in group],
            text_align="center",text_baseline="middle",text_font=value(FONT),text_font_size="14.5px",text_color="#111111")
        conn=[g for g in group if g[5]]
        p.segment([g[1] for g in conn],[10**g[2] for g in conn],[g[1]+g[5][0]/pxx for g in conn],[10**(g[2]-g[5][1]/pxy) for g in conn],line_color="#111111",line_width=1.1)
    return p

vc = volcano(c_down,c_up,[(c_grey_rows,"#b3b5b7"),(c_down_rows,"#3f7fbd"),(c_up_rows,"#b42a2e")],(-4.10,4.125),(.0689,191),120,1143,736,1758,20,1130,745,1813,[-4,-3,-2,-1,0,1,2,3,4],[-4,-3,-2,-1,0,1,2,3,4],74.8,178.6,-6)
vd = volcano(d_down,d_up,[(d_grey_rows,"#b3b5b7"),(d_down_rows,"#3f7fbd"),(d_up_rows,"#b42a2e")],(-2.197,2.19),(.0701,165.6),921,1145,1537,1758,820,1135,1545,1813,[-2,-1,0,1,2],[-2,-1.5,-1,-.5,0,.5,1,1.5,2],140.4,181.5,-4)

placed = [(canvas,0,0),(hb,855,200),(h2,505,745),(lb,1459,88),(l2,1466,636),(vc,20,1130),(vd,820,1135)]
for f,l,t in placed:
    f.styles={"position":"absolute","left":f"{l}px","top":f"{t}px"}
open("out.html","w").write(file_html([p[0] for p in placed], INLINE))
